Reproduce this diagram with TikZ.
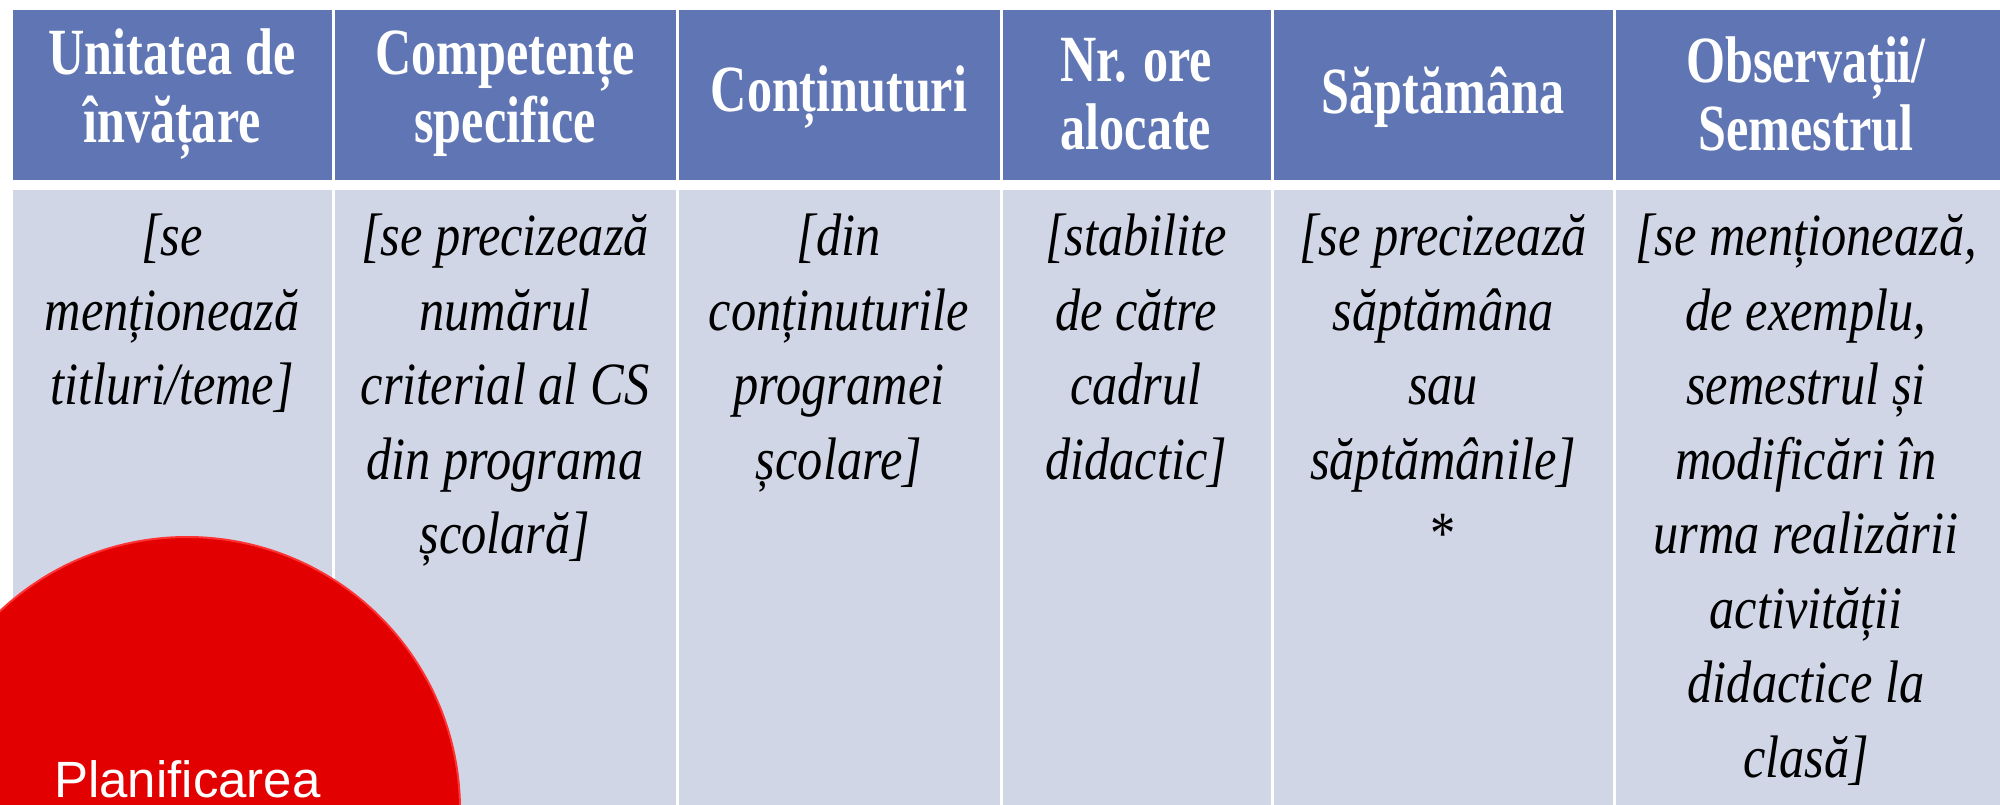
\documentclass[tikz,border=0pt]{standalone}
\usepackage{fontspec}
\setmainfont{Liberation Serif}
\newfontfamily\headfont{Liberation Serif}[FakeStretch=0.76]
\newfontfamily\bodyfont{Liberation Serif}[FakeStretch=0.84]
\newfontfamily\labelfont{Liberation Sans}

\definecolor{headblue}{RGB}{96,118,180}
\definecolor{bodyblue}{RGB}{208,214,230}
\definecolor{planred}{RGB}{226,0,0}

\tikzset{
  headcell/.style={anchor=center, align=center, inner sep=0pt, text=white,
    font=\headfont\bfseries\fontsize{66}{68}\selectfont},
  bodycell/.style={anchor=north, align=center, inner sep=0pt, text=black,
    font=\bodyfont\itshape\fontsize{60}{74.5}\selectfont},
}

\begin{document}
\begin{tikzpicture}[x=1pt, y=-1pt, line cap=round, line join=round]
  % Frame (pixel units, y downwards)
  \useasboundingbox (0,0) rectangle (2000,805);
  \clip (0,0) rectangle (2000,805);
  \fill[white] (0,0) rectangle (2000,805);

  % Table cells: header row and body row, white gaps between columns
  \foreach \l/\r in {11/333, 333/677, 677/1001, 1001/1272, 1272/1614, 1614/2010} {
    \fill[headblue] (\l+1.5,10) rectangle (\r-1.5,180);
    \fill[bodyblue] (\l+1.5,190) rectangle (\r-1.5,820);
  }

  % Header texts
  \node[headcell] (head1) at (172,94) {Unitatea de\\învățare};
  \node[headcell] (head2) at (505,94) {Competențe\\specifice};
  \node[headcell] (head3) at (839,97) {Conținuturi};
  \node[headcell] (head4) at (1136,94) {Nr. ore\\alocate};
  \node[headcell] (head5) at (1443,97) {Săptămâna};
  \node[headcell] (head6) at (1806,94) {Observații/\\Semestrul};

  % Body texts (first baseline near y=256)
  \node[bodycell] (body1) at (172,214) {[se\\menționează\\titluri/teme]};
  \node[bodycell] (body2) at (505,214) {[se precizează\\numărul\\criterial al CS\\din programa\\școlară]};
  \node[bodycell] (body3) at (839,214) {[din\\conținuturile\\programei\\școlare]};
  \node[bodycell] (body4) at (1136,214) {[stabilite\\de către\\cadrul\\didactic]};
  \node[bodycell] (body5) at (1443,214) {[se precizează\\săptămâna\\sau\\săptămânile]\\\upshape *};
  \node[bodycell] (body6) at (1806,214) {[se menționează,\\de exemplu,\\semestrul și\\modificări în\\urma realizării\\activității\\didactice la\\clasă]};

  % Red badge in the lower left corner
  \node[circle, fill=planred, draw=red!80!white, line width=2pt,
    minimum size=546pt, inner sep=0pt] (badge) at (187,810) {};
  \node[anchor=base west, inner sep=0pt, text=white,
    font=\labelfont\fontsize{51}{60}\selectfont] (badgetext) at (54,797) {Planificarea};
\end{tikzpicture}
\end{document}
